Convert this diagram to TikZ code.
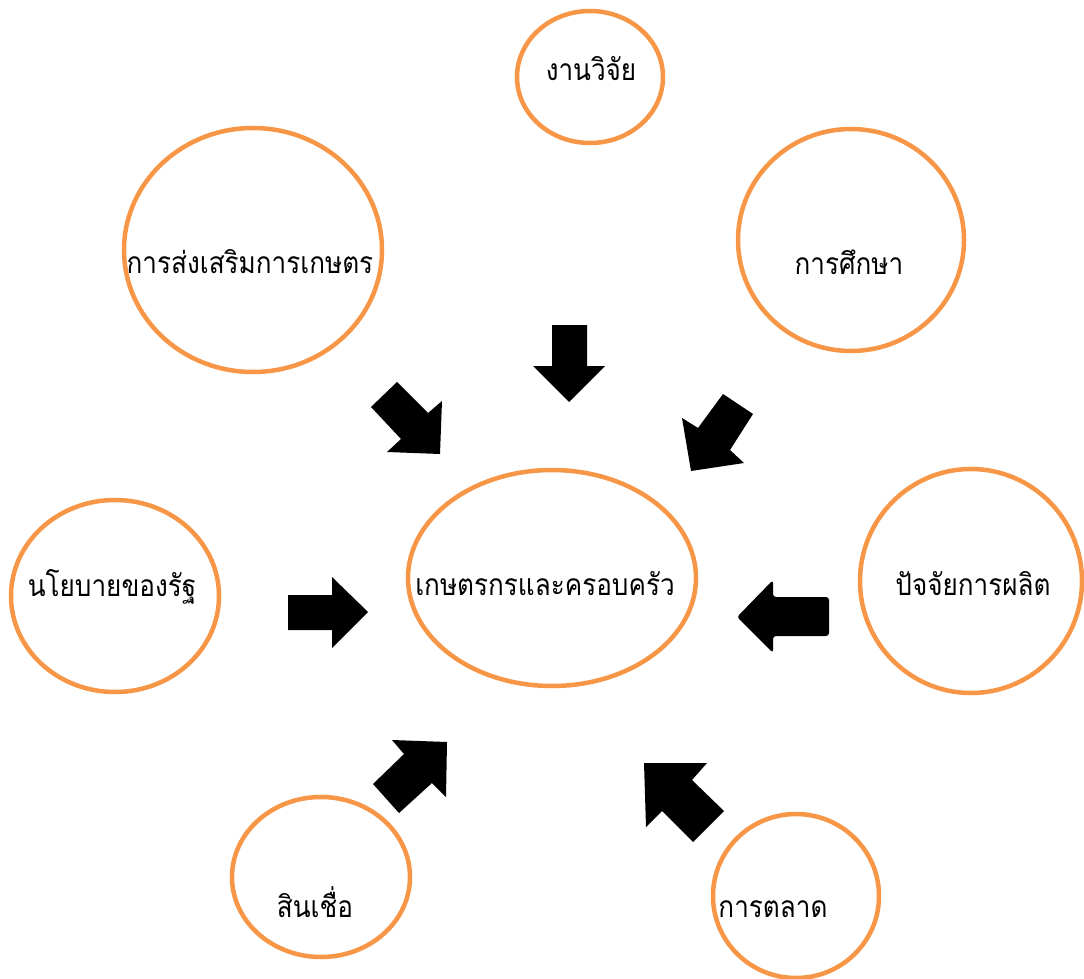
\documentclass[tikz,border=0pt]{standalone}
\usepackage{fontspec}
\newfontfamily\thaifont[Script=Thai, FakeStretch=0.87]{Loma}
\definecolor{ringorange}{HTML}{F79646}
\tikzset{
  ring/.style={draw=ringorange, line width=4.5pt, ellipse, inner sep=0pt, fill=none},
  lbl/.style={font=\thaifont\fontsize{30}{34}\selectfont, inner sep=0pt, anchor=base, text=black},
  blockarrow/.style={fill=black, draw=none}
}
\usetikzlibrary{shapes.geometric}
\begin{document}
\begin{tikzpicture}[x=1pt,y=-1pt]
\useasboundingbox (0,0) rectangle (1084,979);
% rings
\node[ring, minimum width=146pt, minimum height=132pt] (research) at (590,77) {};
\node[ring, minimum width=258pt, minimum height=244pt] (extension) at (253,250) {};
\node[ring, minimum width=226pt, minimum height=222pt] (education) at (851,240) {};
\node[ring, minimum width=208pt, minimum height=192pt] (policy) at (115,596) {};
\node[ring, minimum width=288pt, minimum height=216pt] (farmer) at (552,578) {};
\node[ring, minimum width=222pt, minimum height=224pt] (inputs) at (971,581) {};
\node[ring, minimum width=178pt, minimum height=160pt] (credit) at (321,877) {};
\node[ring, minimum width=166pt, minimum height=164pt] (market) at (796,896) {};
% labels
\node[lbl] (tresearch) at (591,81) {งานวิจัย};
\node[lbl] (textension) at (250,273) {การส่งเสริมการเกษตร};
\node[lbl] (teducation) at (849,274) {การศึกษา};
\node[lbl] (tpolicy) at (112,596) {นโยบายของรัฐ};
\node[lbl] (tfarmer) at (545,595) {เกษตรกรและครอบครัว};
\node[lbl] (tinputs) at (973,595) {ปัจจัยการผลิต};
\node[lbl] (tcredit) at (315,917) {สินเชื่อ};
\node[lbl] (tmarket) at (773,917) {การตลาด};
% block arrows
\fill[blockarrow] (552,325) -- (587,325) -- (587,366) -- (605,366) -- (569,402) -- (533,366) -- (552,366) -- cycle;
\fill[blockarrow] (371,407) -- (397,382) -- (428,413) -- (442,401) -- (440,454) -- (387,452) -- (401,439) -- cycle;
\fill[blockarrow] (723,394) -- (753,414) -- (730,450) -- (744,463) -- (691,471) -- (682,418) -- (698,428) -- cycle;
\fill[blockarrow] (288,595) -- (332,595) -- (332,577) -- (368,612) -- (332,648) -- (332,630) -- (288,630) -- cycle;
\fill[blockarrow, rounded corners=3pt] (829,597) -- (829,636) -- (773,636) -- (773,653) -- (737,617) -- (773,580) -- (773,597) -- cycle;
\fill[blockarrow] (392,740) -- (447,742) -- (446,797) -- (432,783) -- (399,813) -- (373,784) -- (404,754) -- cycle;
\fill[blockarrow] (644,763) -- (707,763) -- (692,780) -- (724,811) -- (693,842) -- (662,811) -- (646,827) -- cycle;
\end{tikzpicture}
\end{document}
